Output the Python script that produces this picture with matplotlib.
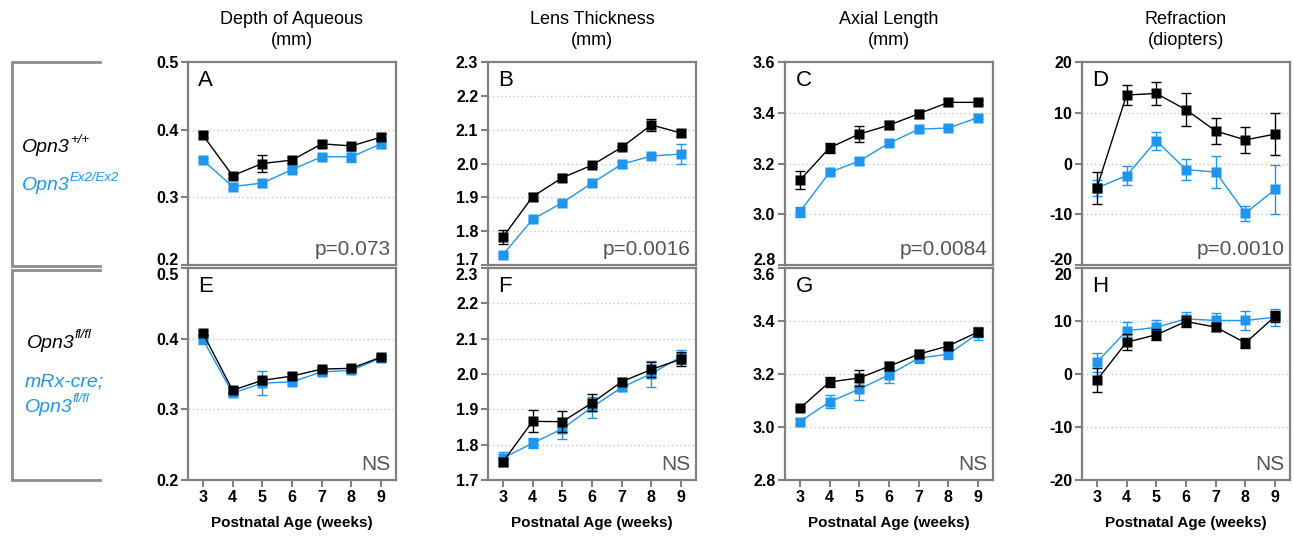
import numpy as np
import matplotlib
matplotlib.use("Agg")
import matplotlib.pyplot as plt
from matplotlib.ticker import FormatStrFormatter

plt.rcParams['font.family'] = ['Liberation Sans', 'DejaVu Sans']
plt.rcParams['axes.unicode_minus'] = False

# ---------------------------------------------------------------------------
# Data: mean and SEM per week
# ---------------------------------------------------------------------------
weeks = [3, 4, 5, 6, 7, 8, 9]

titles = ['Depth of Aqueous\n(mm)', 'Lens Thickness\n(mm)',
          'Axial Length\n(mm)', 'Refraction\n(diopters)']
letters_top = ['A', 'B', 'C', 'D']
letters_bot = ['E', 'F', 'G', 'H']
pvals_top = ['p=0.073', 'p=0.0016', 'p=0.0084', 'p=0.0010']
pvals_bot = ['NS', 'NS', 'NS', 'NS']

# top row: Opn3+/+ (black) vs Opn3 Ex2/Ex2 (blue)
aq_wt      = [0.392, 0.332, 0.350, 0.355, 0.379, 0.376, 0.389]
aq_wt_err  = [0.005, 0.003, 0.013, 0.004, 0.004, 0.003, 0.004]
aq_ko      = [0.355, 0.316, 0.321, 0.341, 0.360, 0.360, 0.379]
aq_ko_err  = [0.003, 0.003, 0.005, 0.003, 0.003, 0.008, 0.006]

lt_wt      = [1.782, 1.902, 1.958, 1.995, 2.048, 2.114, 2.090]
lt_wt_err  = [0.020, 0.010, 0.010, 0.005, 0.005, 0.019, 0.010]
lt_ko      = [1.730, 1.835, 1.884, 1.942, 1.998, 2.022, 2.028]
lt_ko_err  = [0.004, 0.004, 0.004, 0.004, 0.010, 0.004, 0.030]

al_wt      = [3.134, 3.262, 3.316, 3.351, 3.396, 3.441, 3.441]
al_wt_err  = [0.036, 0.020, 0.030, 0.015, 0.015, 0.015, 0.008]
al_ko      = [3.010, 3.165, 3.210, 3.280, 3.335, 3.340, 3.381]
al_ko_err  = [0.020, 0.006, 0.010, 0.006, 0.006, 0.006, 0.006]

rf_wt      = [-4.8, 13.5, 13.8, 10.6, 6.4, 4.65, 5.8]
rf_wt_err  = [3.2, 1.95, 2.2, 3.2, 2.5, 2.6, 4.2]
rf_ko      = [-4.8, -2.4, 4.5, -1.2, -1.7, -9.8, -5.1]
rf_ko_err  = [1.6, 1.9, 1.8, 2.1, 3.2, 1.45, 4.9]

# bottom row: Opn3 fl/fl (black) vs mRx-cre; Opn3 fl/fl (blue)
aq_fl      = [0.408, 0.327, 0.341, 0.347, 0.357, 0.358, 0.374]
aq_fl_err  = [0.003, 0.004, 0.005, 0.004, 0.003, 0.003, 0.003]
aq_cko     = [0.399, 0.323, 0.337, 0.339, 0.353, 0.355, 0.373]
aq_cko_err = [0.007, 0.003, 0.017, 0.005, 0.004, 0.003, 0.003]

lt_fl      = [1.751, 1.866, 1.865, 1.918, 1.978, 2.013, 2.042]
lt_fl_err  = [0.010, 0.031, 0.030, 0.024, 0.010, 0.022, 0.020]
lt_cko     = [1.762, 1.804, 1.845, 1.906, 1.962, 2.001, 2.049]
lt_cko_err = [0.018, 0.014, 0.030, 0.030, 0.010, 0.037, 0.020]

al_fl      = [3.070, 3.170, 3.185, 3.229, 3.275, 3.306, 3.359]
al_fl_err  = [0.005, 0.020, 0.030, 0.015, 0.015, 0.010, 0.015]
al_cko     = [3.020, 3.095, 3.143, 3.197, 3.260, 3.275, 3.353]
al_cko_err = [0.010, 0.025, 0.042, 0.030, 0.020, 0.020, 0.025]

rf_fl      = [-1.15, 6.0, 7.4, 9.9, 8.85, 5.86, 10.9]
rf_fl_err  = [2.2, 1.5, 1.0, 1.0, 0.8, 1.0, 1.0]
rf_cko     = [2.2, 8.15, 8.8, 10.4, 10.1, 10.1, 10.7]
rf_cko_err = [1.75, 1.6, 1.3, 1.3, 1.5, 1.8, 1.6]

top_data = [(aq_wt, aq_wt_err, aq_ko, aq_ko_err),
            (lt_wt, lt_wt_err, lt_ko, lt_ko_err),
            (al_wt, al_wt_err, al_ko, al_ko_err),
            (rf_wt, rf_wt_err, rf_ko, rf_ko_err)]
bot_data = [(aq_fl, aq_fl_err, aq_cko, aq_cko_err),
            (lt_fl, lt_fl_err, lt_cko, lt_cko_err),
            (al_fl, al_fl_err, al_cko, al_cko_err),
            (rf_fl, rf_fl_err, rf_cko, rf_cko_err)]

ylims  = [(0.2, 0.5), (1.7, 2.3), (2.8, 3.6), (-20, 20)]
yticks = [np.arange(0.2, 0.51, 0.1), np.arange(1.7, 2.31, 0.1),
          np.arange(2.8, 3.61, 0.2), np.arange(-20, 21, 10)]
yfmts  = ['%.1f', '%.1f', '%.1f', '%d']

BLACK = '#000000'
BLUE  = '#1e96f0'
FRAME = '#808080'

# ---------------------------------------------------------------------------
# Layout (pixel geometry of the original figure)
# ---------------------------------------------------------------------------
W, H = 1294, 537
fig = plt.figure(figsize=(W / 100, H / 100), dpi=100)

col_left = [188, 488, 785, 1082]
col_w = 208
rows = [(62, 265), (268, 480)]   # (top, bottom) in pixels


def make_ax(left, top, bottom):
    return fig.add_axes([left / W, 1 - bottom / H, col_w / W, (bottom - top) / H])


def style_ax(ax, i, show_x):
    ax.set_xlim(2.5, 9.5)
    ax.set_ylim(*ylims[i])
    ax.set_yticks(yticks[i])
    ax.yaxis.set_major_formatter(FormatStrFormatter(yfmts[i]))
    ax.set_xticks(weeks)
    for sp in ax.spines.values():
        sp.set_color(FRAME)
        sp.set_linewidth(1.6)
    ax.tick_params(direction='out', length=5, width=1.5, color=FRAME,
                   labelsize=11.5, pad=2)
    ylabels = ax.get_yticklabels()
    for lbl in ylabels + ax.get_xticklabels():
        lbl.set_fontweight('bold')
    # keep the edge labels of the two rows apart
    if show_x:
        ylabels[-1].set_verticalalignment('top')
    else:
        ylabels[0].set_verticalalignment('baseline')
    # dotted grid on interior ticks only
    for yv in yticks[i][1:-1]:
        ax.axhline(yv, color='#c8c8c8', lw=1, ls=(0, (1, 2)), zorder=0)
    if show_x:
        ax.set_xlabel('Postnatal Age (weeks)', fontsize=11, fontweight='bold',
                      labelpad=8)
    else:
        ax.tick_params(axis='x', bottom=False, labelbottom=False)


def draw_series(ax, d):
    y_blk, e_blk, y_blu, e_blu = d
    kw = dict(marker='s', ms=7.5, lw=1, elinewidth=1, capsize=3.5,
              capthick=1, mec='none')
    ax.errorbar(weeks, y_blu, yerr=e_blu, color=BLUE, zorder=3, **kw)
    ax.errorbar(weeks, y_blk, yerr=e_blk, color=BLACK, zorder=4, **kw)


for i in range(4):
    ax = make_ax(col_left[i], *rows[0])
    draw_series(ax, top_data[i])
    style_ax(ax, i, show_x=False)
    ax.set_title(titles[i], fontsize=13, pad=12, linespacing=1.35)
    ax.text(0.05, 0.96, letters_top[i], transform=ax.transAxes,
            ha='left', va='top', fontsize=16)
    ax.text(0.975, 0.03, pvals_top[i], transform=ax.transAxes,
            ha='right', va='bottom', fontsize=15, color='#555555')

    ax = make_ax(col_left[i], *rows[1])
    draw_series(ax, bot_data[i])
    style_ax(ax, i, show_x=True)
    ax.text(0.05, 0.96, letters_bot[i], transform=ax.transAxes,
            ha='left', va='top', fontsize=16)
    ax.text(0.975, 0.03, pvals_bot[i], transform=ax.transAxes,
            ha='right', va='bottom', fontsize=15, color='#555555')

# ---------------------------------------------------------------------------
# Left-hand genotype brackets
# ---------------------------------------------------------------------------
bg = fig.add_axes([0, 0, 1, 1], zorder=-1)
bg.set_xlim(0, W)
bg.set_ylim(H, 0)
bg.axis('off')

for top, bot in [(62, 266), (270, 480)]:
    bg.plot([100, 12, 12, 100], [top, top, bot, bot], color='#8c8c8c', lw=2,
            solid_joinstyle='miter')


def genotype(x, y, base, sup, color):
    t = bg.text(x, y, base, color=color, fontsize=14, style='italic',
                ha='left', va='center')
    if sup:
        bg.annotate(sup, xy=(1, 0.62), xycoords=t, color=color, fontsize=9.5,
                    style='italic', ha='left', va='bottom')
    return t


genotype(22, 148, 'Opn3', '+/+', BLACK)
genotype(22, 186, 'Opn3', 'Ex2/Ex2', BLUE)
genotype(27, 343, 'Opn3', 'fl/fl', BLACK)
genotype(25, 382, 'mRx-cre;', '', BLUE)
genotype(25, 407, 'Opn3', 'fl/fl', BLUE)

fig.savefig('out.png', dpi=100)
